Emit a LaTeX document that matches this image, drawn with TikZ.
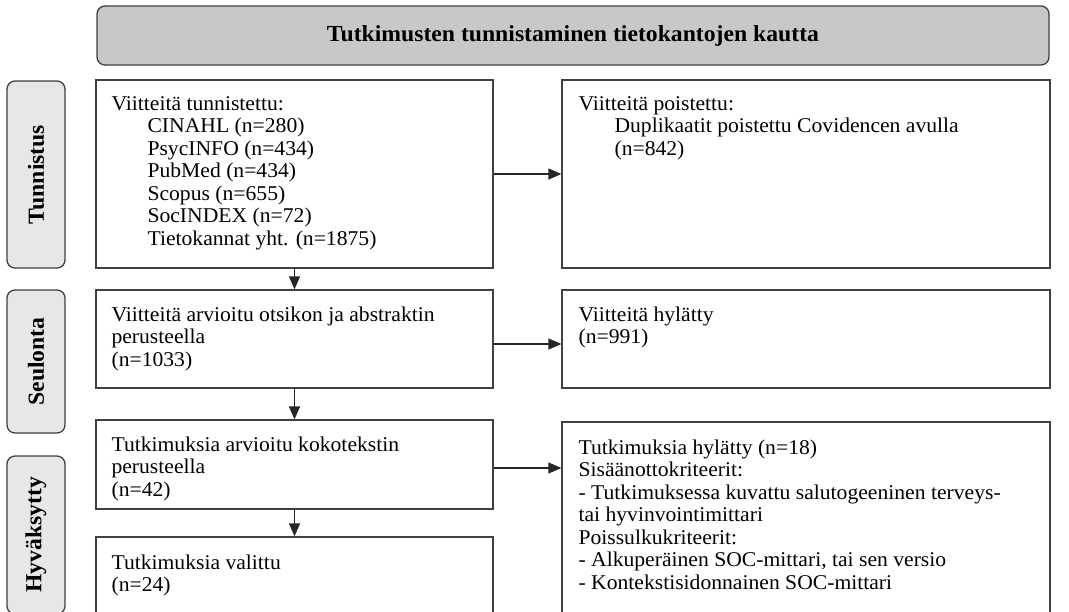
\documentclass[tikz,border=0pt]{standalone}
\usepackage{fontspec}
\setmainfont{Liberation Serif}[FakeStretch=1.03]
\usetikzlibrary{positioning,calc,arrows.meta}
\definecolor{headgray}{RGB}{200,200,200}
\definecolor{sidegray}{RGB}{231,231,231}
\definecolor{edge}{RGB}{65,65,65}

\begin{document}
\begin{tikzpicture}[x=1pt,y=-1pt,
    box/.style={draw=edge,line width=1.3pt,rectangle,inner sep=0pt},
    sidebox/.style={draw=edge,line width=1.3pt,fill=sidegray,rounded corners=8pt,inner sep=0pt,minimum width=58pt},
    txt/.style={anchor=north west,align=left,inner sep=0pt,font=\fontsize{21}{22.5}\selectfont},
    sidetxt/.style={rotate=90,inner sep=0pt,font=\fontsize{23}{24}\selectfont\bfseries},
    arr/.style={-{Triangle[length=13pt,width=11pt]},line width=1.3pt,draw=black!85}]
    \useasboundingbox (0,0) rectangle (1069,611);
    \clip (0,0) rectangle (1069,611);
    \fill[white] (0,0) rectangle (1069,611);
    % otsikko
    \node[box,fill=headgray,rounded corners=8pt,minimum width=952pt,minimum height=59pt] (head) at (573,35.5) {};
    \node[font=\fontsize{23}{24}\selectfont\bfseries] (headtxt) at (head) {Tutkimusten tunnistaminen tietokantojen kautta};
    % vaiheet
    \node[sidebox,minimum height=187pt] (s1) at (36,174.5) {};
    \node[sidebox,minimum height=143pt] (s2) at (36,361.5) {};
    \node[sidebox,minimum height=158pt] (s3) at (36,535) {};
    \node[sidetxt] (s1txt) at (s1) {Tunnistus};
    \node[sidetxt] (s2txt) at (s2) {Seulonta};
    \node[sidetxt] (s3txt) at (s3) {Hyväksytty};
    % laatikot
    \node[box,minimum width=397pt,minimum height=188pt] (b1) at (294.5,174) {};
    \node[box,minimum width=488pt,minimum height=188pt] (r1) at (806,174) {};
    \node[box,minimum width=397pt,minimum height=98pt] (b2) at (294.5,339) {};
    \node[box,minimum width=488pt,minimum height=98pt] (r2) at (806,339) {};
    \node[box,minimum width=397pt,minimum height=89pt] (b3) at (294.5,464.5) {};
    \node[box,minimum width=488pt,minimum height=203pt] (r3) at (806,523.5) {};
    \node[box,minimum width=397pt,minimum height=88pt] (b4) at (294.5,581) {};
    % tekstit
    \node[txt] (b1txt) at ($(b1.north west)+(16,17)$) {Viitteitä tunnistettu:\\
        \hspace*{36pt}CINAHL (n=280)\\
        \hspace*{36pt}PsycINFO (n=434)\\
        \hspace*{36pt}PubMed (n=434)\\
        \hspace*{36pt}Scopus (n=655)\\
        \hspace*{36pt}SocINDEX (n=72)\\
        \hspace*{36pt}Tietokannat yht. (n=1875)};
    \node[txt] (r1txt) at ($(r1.north west)+(17,17)$) {Viitteitä poistettu:\\
        \hspace*{36pt}Duplikaatit poistettu Covidencen avulla\\
        \hspace*{36pt}(n=842)};
    \node[txt] (b2txt) at ($(b2.north west)+(16,17)$) {Viitteitä arvioitu otsikon ja abstraktin\\perusteella\\(n=1033)};
    \node[txt] (r2txt) at ($(r2.north west)+(17,17)$) {Viitteitä hylätty\\(n=991)};
    \node[txt] (b3txt) at ($(b3.north west)+(16,17)$) {Tutkimuksia arvioitu kokotekstin\\perusteella\\(n=42)};
    \node[txt] (r3txt) at ($(r3.north west)+(17,18)$) {Tutkimuksia hylätty (n=18)\\
        Sisäänottokriteerit:\\
        - Tutkimuksessa kuvattu salutogeeninen terveys-\\
        tai hyvinvointimittari\\
        Poissulkukriteerit:\\
        - Alkuperäinen SOC-mittari, tai sen versio\\
        - Kontekstisidonnainen SOC-mittari};
    \node[txt] (b4txt) at ($(b4.north west)+(16,18)$) {Tutkimuksia valittu\\(n=24)};
    % nuolet
    \draw[arr] (b1.south) -- (b2.north);
    \draw[arr] (b2.south) -- (b3.north);
    \draw[arr] (b3.south) -- (b4.north);
    \draw[arr] (b1.east) -- (b1.east -| r1.west);
    \draw[arr] ([yshift=-5pt]b2.east) -- ([yshift=-5pt]b2.east -| r2.west);
    \draw[arr] ([yshift=-3.5pt]b3.east) -- ([yshift=-3.5pt]b3.east -| r3.west);
\end{tikzpicture}
\end{document}
